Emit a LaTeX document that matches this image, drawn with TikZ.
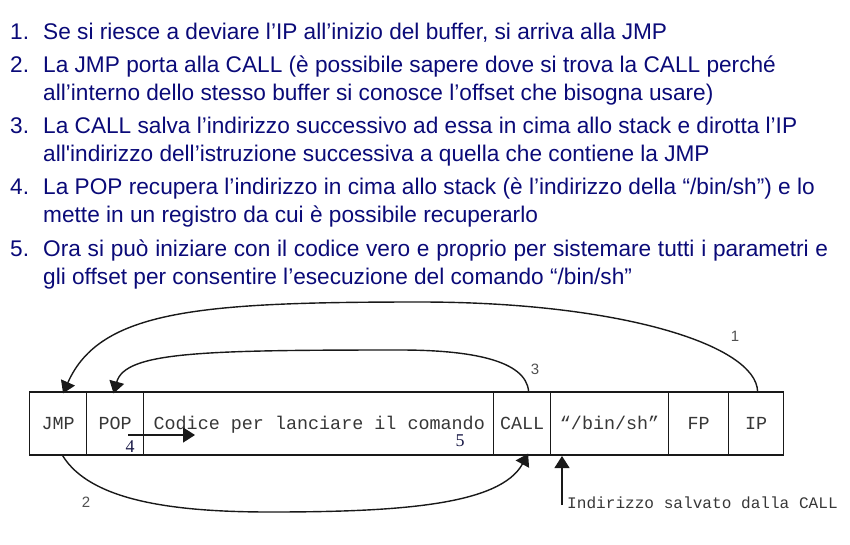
\documentclass[tikz,border=0pt]{standalone}
\usepackage{fontspec}
\newfontfamily\bodyf{Liberation Sans}
\newfontfamily\monof{Liberation Mono}
\newfontfamily\seriff{Liberation Serif}
\usetikzlibrary{arrows.meta}
\definecolor{navytext}{RGB}{10,10,120}
\definecolor{boxtext}{RGB}{55,55,55}
\definecolor{linecol}{RGB}{25,25,25}
\definecolor{numgray}{RGB}{80,80,80}
\definecolor{numdark}{RGB}{25,25,70}
\tikzset{
  itemtext/.style={anchor=base west, inner sep=0pt, text=navytext,
    font=\bodyf\fontsize{22.65}{28}\selectfont},
  cell/.style={draw=linecol, line width=1.2pt, minimum height=63pt, inner sep=0pt,
    anchor=west, text=boxtext, text height=12pt, text depth=0pt,
    font=\monof\fontsize{18.4}{20}\selectfont},
  stepnum/.style={inner sep=0pt, anchor=base, text=numgray,
    font=\bodyf\fontsize{15}{16}\selectfont},
  stepnumserif/.style={inner sep=0pt, anchor=base, text=numdark,
    font=\seriff\fontsize{18}{19}\selectfont},
  flow/.style={draw=linecol, line width=1.4pt,
    -{Triangle[length=12pt,width=15pt]}},
  note/.style={anchor=base west, inner sep=0pt, text=boxtext,
    font=\monof\fontsize{16.1}{18}\selectfont}
}
\begin{document}
\begin{tikzpicture}[x=1pt,y=-1pt]
\useasboundingbox (0,0) rectangle (850,544);
% list
\node[itemtext] (n1) at (10,39) {1.};
\node[itemtext] (t1) at (43,39) {Se si riesce a deviare l’IP all’inizio del buffer, si arriva alla JMP};
\node[itemtext] (n2) at (10,72) {2.};
\node[itemtext] (t2a) at (43,72) {La JMP porta alla CALL (è possibile sapere dove si trova la CALL perché};
\node[itemtext] (t2b) at (43,100) {all’interno dello stesso buffer si conosce l’offset che bisogna usare)};
\node[itemtext] (n3) at (10,133) {3.};
\node[itemtext] (t3a) at (43,133) {La CALL salva l’indirizzo successivo ad essa in cima allo stack e dirotta l’IP};
\node[itemtext] (t3b) at (43,161) {all'indirizzo dell’istruzione successiva a quella che contiene la JMP};
\node[itemtext] (n4) at (10,194) {4.};
\node[itemtext] (t4a) at (43,194) {La POP recupera l’indirizzo in cima allo stack (è l’indirizzo della “/bin/sh”) e lo};
\node[itemtext] (t4b) at (43,222) {mette in un registro da cui è possibile recuperarlo};
\node[itemtext] (n5) at (10,256) {5.};
\node[itemtext] (t5a) at (43,256) {\makebox[785pt][s]{Ora si può iniziare con il codice vero e proprio per sistemare tutti i parametri e}};
\node[itemtext] (t5b) at (43,284) {gli offset per consentire l’esecuzione del comando “/bin/sh”};
% buffer cells
\node[cell, minimum width=57pt] (jmp) at (29,423.5) {JMP};
\node[cell, minimum width=57pt] (pop) at (86,423.5) {POP};
\node[cell, minimum width=350pt] (code) at (143,423.5) {\makebox[330pt][l]{Codice per lanciare il comando}};
\node[cell, minimum width=57pt] (call) at (493,423.5) {CALL};
\node[cell, minimum width=118pt] (bin) at (550,423.5) {“/bin/sh”};
\node[cell, minimum width=60pt] (fp) at (668,423.5) {FP};
\node[cell, minimum width=55pt] (ip) at (728,423.5) {IP};
% step labels
\node[stepnum] (l1) at (735,341) {1};
\node[stepnum] (l2) at (86,507) {2};
\node[stepnum] (l3) at (535,374) {3};
\node[stepnumserif] (l4) at (130,452) {4};
\node[stepnumserif] (l5) at (460,446) {5};
% note
\node[note] (ind) at (567,508) {Indirizzo salvato dalla CALL};
% connectors
\coordinate (a4s) at (128,435);
\coordinate (a4e) at (195,435);
\coordinate (a5s) at (562,505);
\coordinate (a5e) at (562,456);
\draw[flow] ([xshift=1.5pt]ip.north) .. controls (756,345) and (620,302) .. (420,302)
  .. controls (200,302) and (100,310) .. ([xshift=5pt,yshift=-2pt]jmp.north);
\draw[flow] ([xshift=6.5pt]call.north) .. controls (526,360) and (470,350) .. (400,350)
  .. controls (200,350) and (125,352) .. ([xshift=-1.5pt,yshift=-2pt]pop.north);
\draw[flow] ([xshift=4.5pt]jmp.south) .. controls (90,500) and (170,512) .. (270,512)
  .. controls (400,512) and (500,505) .. ([xshift=6pt,yshift=2pt]call.south);
\draw[flow] (a4s) -- (a4e);
\draw[flow, line width=1.2pt] (a5s) -- (a5e);
\end{tikzpicture}
\end{document}
